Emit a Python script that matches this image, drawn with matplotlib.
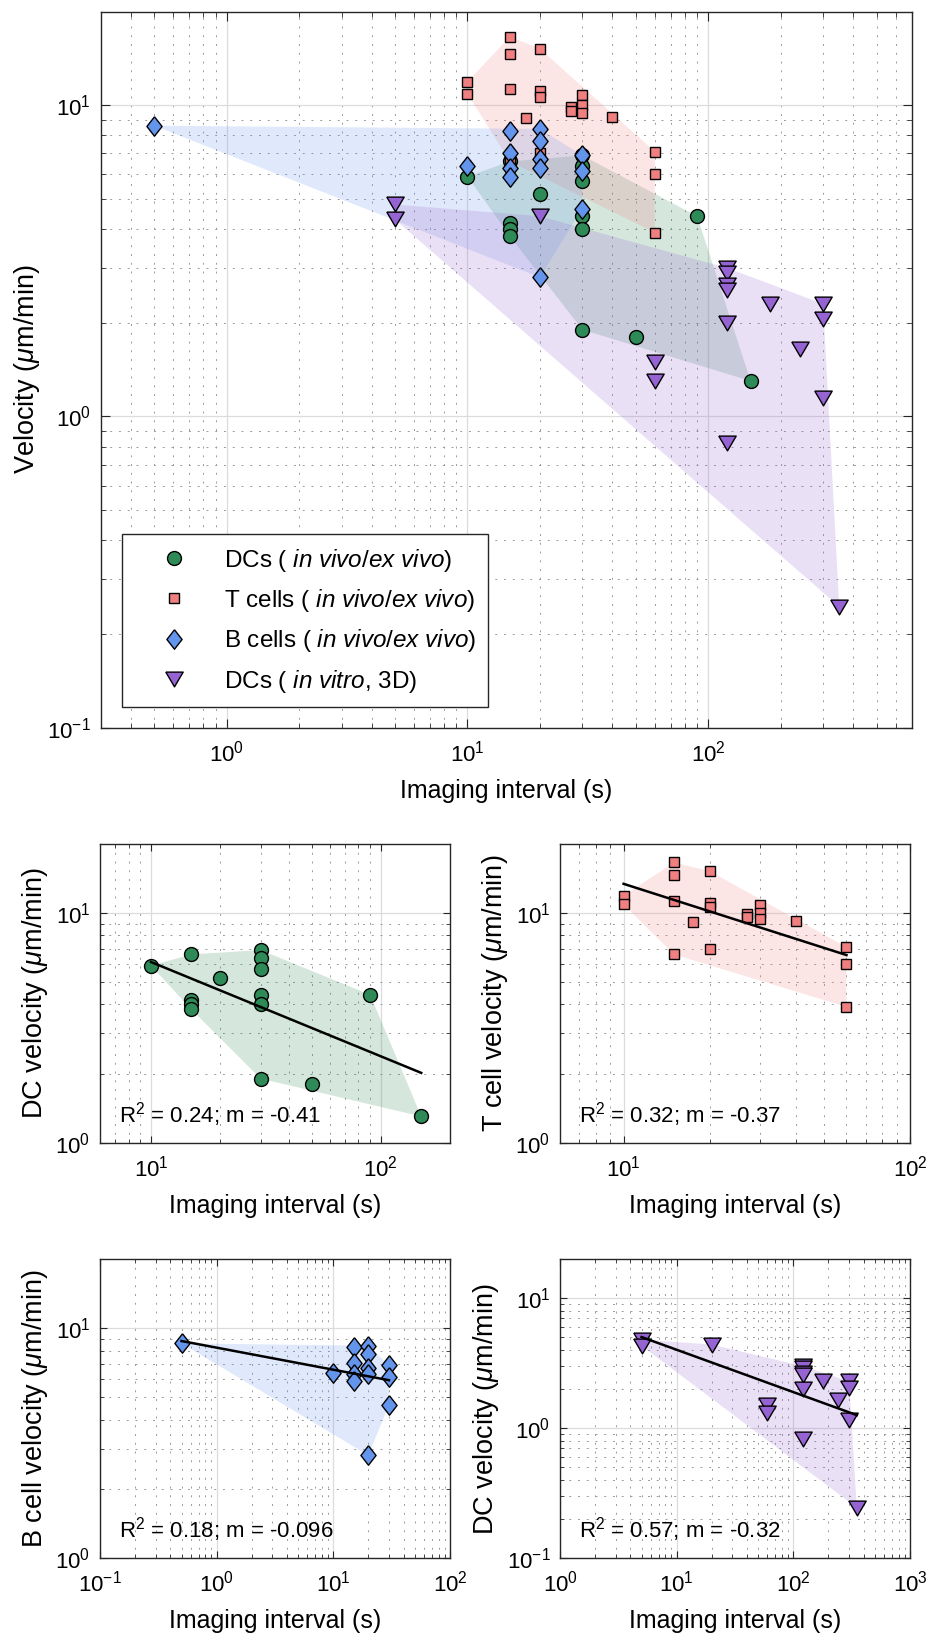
import numpy as np
import matplotlib
matplotlib.use("Agg")
import matplotlib.pyplot as plt
from matplotlib.ticker import LogLocator, NullFormatter

plt.rcParams['font.family'] = ['Liberation Sans', 'DejaVu Sans']
plt.rcParams['mathtext.fontset'] = 'custom'
plt.rcParams['mathtext.rm'] = 'Liberation Sans'
plt.rcParams['mathtext.it'] = 'Liberation Sans:italic'
plt.rcParams['mathtext.bf'] = 'Liberation Sans:bold'

# data (imaging interval in s, velocity in um/min)
dc_x = [10, 15, 15, 15, 15, 20, 30, 30, 30, 30, 30, 30, 50, 90, 150]
dc_y = [5.9, 6.6, 4.2, 4.0, 3.8, 5.2, 6.9, 6.4, 5.7, 4.4, 4.0, 1.9, 1.8, 4.4, 1.3]

t_x = [10, 10, 15, 15, 15, 15, 17.5, 20, 20, 20, 20, 27, 27, 30, 30, 30, 40, 60, 60, 60]
t_y = [11.9, 10.9, 16.6, 14.6, 11.3, 6.6, 9.1, 15.2, 11.1, 10.6, 7.0, 9.9, 9.6,
       10.8, 10.0, 9.45, 9.2, 7.1, 6.0, 3.9]

b_x = [0.5, 10, 15, 15, 15, 15, 20, 20, 20, 20, 20, 30, 30, 30]
b_y = [8.6, 6.4, 8.25, 7.05, 6.3, 5.9, 8.4, 7.7, 6.7, 6.3, 2.8, 6.9, 6.15, 4.65]

v_x = [5, 5, 20, 60, 60, 120, 120, 120, 120, 120, 120, 180, 240, 300, 300, 300, 350]
v_y = [4.8, 4.3, 4.4, 1.5, 1.3, 3.0, 2.9, 2.65, 2.55, 2.0, 0.82, 2.3, 1.65, 2.3,
       2.05, 1.15, 0.245]

labels = [r'DCs ( $\mathit{in\ vivo/ex\ vivo}$)',
          r'T cells ( $\mathit{in\ vivo/ex\ vivo}$)',
          r'B cells ( $\mathit{in\ vivo/ex\ vivo}$)',
          r'DCs ( $\mathit{in\ vitro}$, 3D)']
fit_text = [r'R$^2$ = 0.24; m = -0.41', r'R$^2$ = 0.32; m = -0.37',
            r'R$^2$ = 0.18; m = -0.096', r'R$^2$ = 0.57; m = -0.32']
ylabels = [r'DC velocity ($\mu$m/min)', r'T cell velocity ($\mu$m/min)',
           r'B cell velocity ($\mu$m/min)', r'DC velocity ($\mu$m/min)']

colors = ['#2e8b57', '#f08080', '#6495ed', '#9664d2']
diamond = [(0, 1), (0.78, 0), (0, -1), (-0.78, 0), (0, 1)]
tri_down = [(-1, 0.85), (1, 0.85), (0, -0.85), (-1, 0.85)]
markers = ['o', 's', diamond, tri_down]
msizes = [10, 7, 14, 12.5]

groups = [(dc_x, dc_y), (t_x, t_y), (b_x, b_y), (v_x, v_y)]


def log_hull(x, y):
    # convex hull in log-log space (monotone chain)
    pts = sorted(set(zip(np.log10(x), np.log10(y))))

    def cross(o, a, b):
        return (a[0] - o[0]) * (b[1] - o[1]) - (a[1] - o[1]) * (b[0] - o[0])
    lower = []
    for p in pts:
        while len(lower) >= 2 and cross(lower[-2], lower[-1], p) <= 0:
            lower.pop()
        lower.append(p)
    upper = []
    for p in reversed(pts):
        while len(upper) >= 2 and cross(upper[-2], upper[-1], p) <= 0:
            upper.pop()
        upper.append(p)
    h = np.array(lower[:-1] + upper[:-1])
    return 10 ** h[:, 0], 10 ** h[:, 1]


def style_axes(ax, xlim, ylim, big=False):
    ax.set_xscale('log')
    ax.set_yscale('log')
    ax.set_xlim(xlim)
    ax.set_ylim(ylim)
    for a in (ax.xaxis, ax.yaxis):
        a.set_major_locator(LogLocator(base=10, numticks=20))
        a.set_minor_locator(LogLocator(base=10, subs=np.arange(2, 10), numticks=50))
        a.set_minor_formatter(NullFormatter())
    ax.grid(True, which='major', color='#dcdcdc', lw=0.9, ls='-')
    ax.grid(True, which='minor', color='#9a9a9a', lw=0.7, ls=(0, (2, 7)))
    ax.set_axisbelow(True)
    L = 6.5 if big else 5
    ax.tick_params(which='both', direction='in', top=True, right=True,
                   color='#262626')
    ax.tick_params(which='major', length=L, width=0.8, labelsize=16)
    ax.tick_params(which='minor', length=L * 0.55, width=0.6)
    ax.tick_params(axis='x', which='major', pad=9)
    ax.tick_params(axis='y', which='major', pad=7)
    for s in ax.spines.values():
        s.set_color('#262626')
        s.set_linewidth(1.0)


fig = plt.figure(figsize=(9.37, 16.37), dpi=100)

# main panel
ax = fig.add_axes([0.1075, 0.5555, 0.8655, 0.4374])
style_axes(ax, (0.3, 700), (0.1, 20), big=True)
handles = []
for (x, y), c, m, ms, lab in zip(groups, colors, markers, msizes, labels):
    hx, hy = log_hull(x, y)
    ax.fill(hx, hy, color=c, alpha=0.2, lw=0)
    h, = ax.plot(x, y, ls='none', marker=m, ms=ms, mfc=c, mec='k', mew=1.0,
                 label=lab)
    handles.append(h)
ax.set_xlabel('Imaging interval (s)', fontsize=18, labelpad=9)
ax.set_ylabel(r'Velocity ($\mu$m/min)', fontsize=19.5, labelpad=4)
leg = ax.legend(handles=handles, loc='lower left', bbox_to_anchor=(0.026, 0.029),
                fontsize=17.5, frameon=True, fancybox=False, framealpha=1,
                edgecolor='#262626', borderpad=0.5, handlelength=3.3,
                handletextpad=0.4, labelspacing=0.55, borderaxespad=0)
leg.get_frame().set_linewidth(1.0)

# small panels
positions = [[0.1067, 0.3020, 0.3735, 0.1825], [0.5977, 0.3020, 0.3735, 0.1825],
             [0.1067, 0.0481, 0.3735, 0.1828], [0.5977, 0.0481, 0.3735, 0.1828]]
xlims = [(6, 200), (6, 100), (0.1, 100), (1, 1000)]
ylims = [(1, 20), (1, 20), (1, 20), (0.1, 20)]

for i in range(4):
    x, y = np.array(groups[i][0]), np.array(groups[i][1])
    a = fig.add_axes(positions[i])
    style_axes(a, xlims[i], ylims[i])
    hx, hy = log_hull(x, y)
    a.fill(hx, hy, color=colors[i], alpha=0.2, lw=0, zorder=2)
    a.plot(x, y, ls='none', marker=markers[i], ms=msizes[i], mfc=colors[i],
           mec='k', mew=1.0, zorder=3)
    # linear fit in log-log space
    p = np.polyfit(np.log10(x), np.log10(y), 1)
    fx = np.array([x.min(), x.max()])
    a.plot(fx, 10 ** np.polyval(p, np.log10(fx)), color='k', lw=1.8, zorder=4)
    a.text(0.055, 0.068, fit_text[i], transform=a.transAxes, fontsize=16,
           va='baseline', ha='left', zorder=5)
    a.set_xlabel('Imaging interval (s)', fontsize=18, labelpad=9)
    a.set_ylabel(ylabels[i], fontsize=19.5, labelpad=4)

fig.savefig('out.png', dpi=100)
